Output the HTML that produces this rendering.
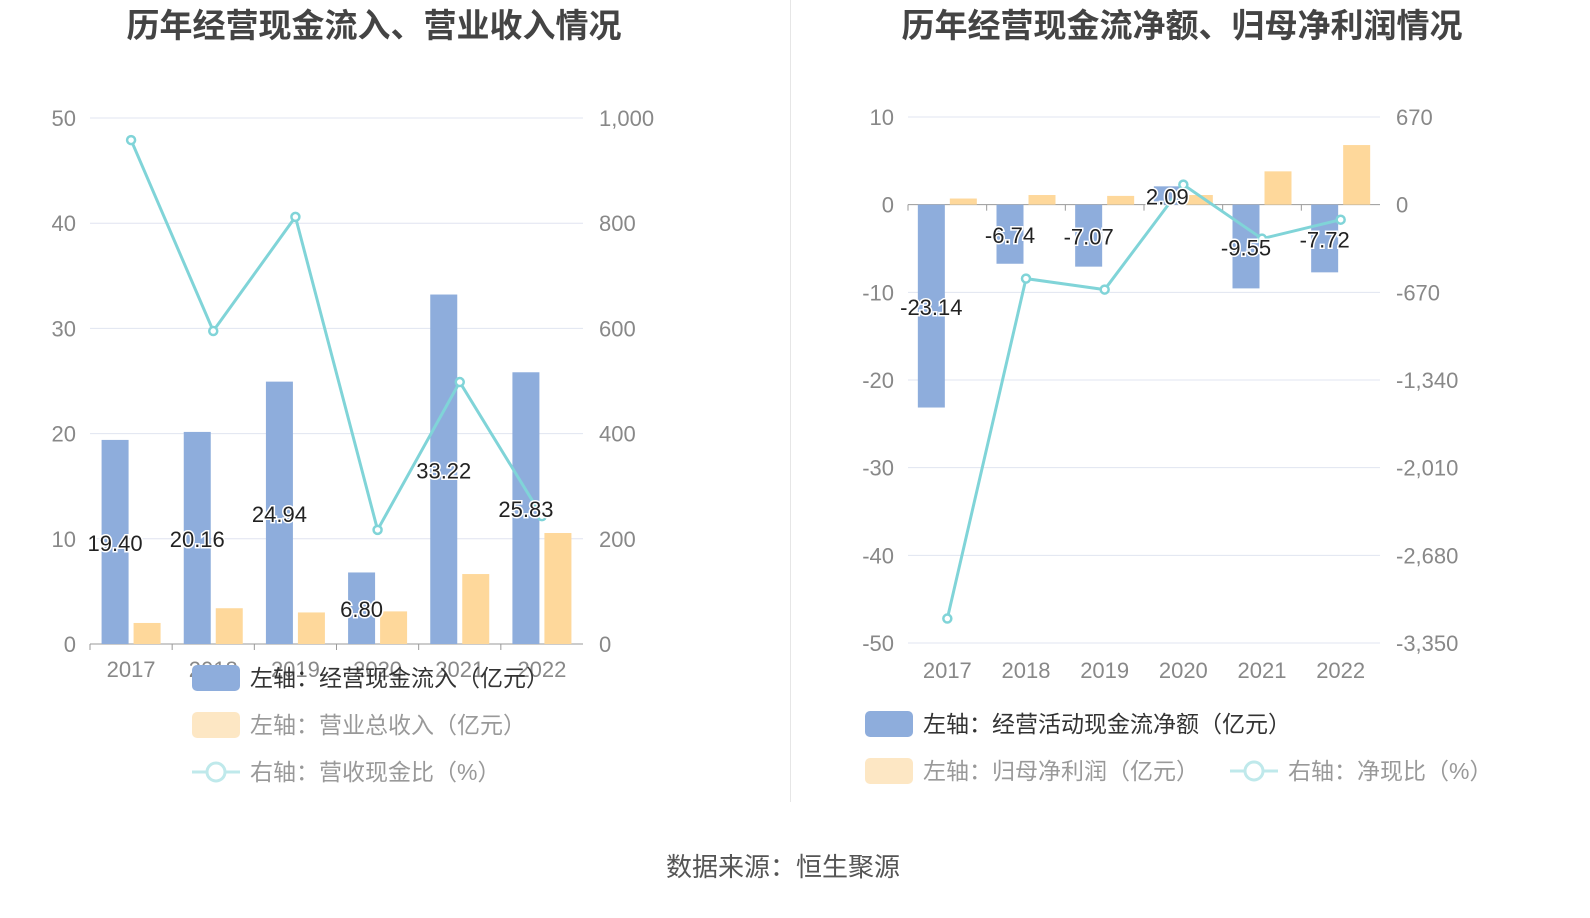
<!DOCTYPE html>
<html><head><meta charset="utf-8">
<style>
html,body{margin:0;padding:0;background:#fff;}
svg{display:block;font-family:"Liberation Sans","Noto Sans CJK SC",sans-serif;}
</style></head>
<body>
<svg id="c" width="1590" height="918" viewBox="0 0 1590 918">
<text x="374" y="37" text-anchor="middle" font-size="33" font-weight="bold" fill="#444">历年经营现金流入、营业收入情况</text>
<text x="1182" y="37" text-anchor="middle" font-size="33" font-weight="bold" fill="#444">历年经营现金流净额、归母净利润情况</text>
<line x1="790.5" y1="0" x2="790.5" y2="802" stroke="#e6e6e6" stroke-width="1"/>
<text x="783" y="876" text-anchor="middle" font-size="26" fill="#555">数据来源：恒生聚源</text>
<g id="L"></g><g id="R"></g>
</svg>
<script>
const years=["2017","2018","2019","2020","2021","2022"];
const leftInflow=[19.40,20.16,24.94,6.80,33.22,25.83];
const leftRevenue=[2.0,3.4,3.0,3.1,6.65,10.55];
const leftRatio=[958,595,812,217,498,243];
const leftTicks=[0,10,20,30,40,50];
const leftRTicks=["0","200","400","600","800","1,000"];
const rightNet=[-23.14,-6.74,-7.07,2.09,-9.55,-7.72];
const rightProfit=[0.7,1.1,1.0,1.1,3.8,6.8];
const rightRatio=[-3163,-565,-649,153,-260,-115];
const rightTicks=[10,0,-10,-20,-30,-40,-50];
const rightRTicks=["670","0","-670","-1,340","-2,010","-2,680","-3,350"];

const NS="http://www.w3.org/2000/svg";
function mk(p,t,a,txt){const e=document.createElementNS(NS,t);for(const k in a)e.setAttribute(k,a[k]);if(txt!==undefined)e.textContent=txt;p.appendChild(e);return e;}
const BLUE="#8eaddc",ORANGE="#fed89b",TEAL="#80d4d8";

function drawChart(g,o){
  const y=v=>o.y0-(v-o.vmin)/(o.vmax-o.vmin)*(o.y0-o.y1);
  const yr=v=>o.y0-(v-o.rmin)/(o.rmax-o.rmin)*(o.y0-o.y1);
  const step=(o.x1-o.x0)/years.length;
  const cx=i=>o.x0+step*(i+0.5);
  o.ticks.forEach((t,i)=>{
    const yy=y(t);
    const l=mk(g,"line",{x1:o.x0,x2:o.x1,y1:yy,y2:yy,stroke:t===0?"#999":"#e0e4f0","stroke-width":1});
    
    
    const tl=mk(g,"text",{x:o.x0-14,y:yy+8,"text-anchor":"end","font-size":22,fill:"#888"},String(t));
    
    
    const tr=mk(g,"text",{x:o.x1+16,y:yy+8,"font-size":22,fill:"#888"},o.rlabels[i]);
    
    
  });
  const zy=y(0);
  years.forEach((yrl,i)=>{
    const xl=mk(g,"text",{x:cx(i),y:o.xlabY,"text-anchor":"middle","font-size":22,fill:"#888"},yrl);
    
    
    const tk=mk(g,"line",{x1:o.x0+step*i,x2:o.x0+step*i,y1:zy,y2:zy+6,stroke:"#999"});
    
    
    const bw=27;
    const v=o.a[i],b=mk(g,"rect",{x:cx(i)-16-bw/2,y:Math.min(y(v),zy),width:bw,height:Math.abs(y(v)-zy),fill:BLUE});
    
    
    const v2=o.b[i],b2=mk(g,"rect",{x:cx(i)+16-bw/2,y:Math.min(y(v2),zy),width:bw,height:Math.abs(y(v2)-zy),fill:ORANGE});
    
    
  });
  let d="";
  o.c.forEach((v,i)=>{d+=(i?"L":"M")+cx(i)+","+yr(v);});
  const ln=mk(g,"path",{d:d,fill:"none",stroke:TEAL,"stroke-width":3});
  
  
  o.c.forEach((v,i)=>{
    const p=mk(g,"circle",{cx:cx(i),cy:yr(v),r:4,fill:"#fff",stroke:TEAL,"stroke-width":2.5});
    
    
  });
  o.a.forEach((v,i)=>{
    const t=mk(g,"text",{x:cx(i)-16,y:(y(v)+zy)/2+9,"text-anchor":"middle","font-size":22,fill:"#222",stroke:"#fff","stroke-width":3,"paint-order":"stroke"},v.toFixed(2));
    
    
  });
}
const L=document.getElementById("L"),R=document.getElementById("R");
drawChart(L,{x0:90,x1:583,y0:644,y1:118,vmin:0,vmax:50,rmin:0,rmax:1000,ticks:leftTicks,rlabels:leftRTicks,a:leftInflow,b:leftRevenue,c:leftRatio,xlabY:677});
drawChart(R,{x0:908,x1:1380,y0:643,y1:117,vmin:-50,vmax:10,rmin:-3350,rmax:670,ticks:rightTicks,rlabels:rightRTicks,a:rightNet,b:rightProfit,c:rightRatio,xlabY:678});

function legend(g,x,yy,type,label,name){
  const e=mk(g,"g",{});
  
  
  if(type==="line"){
    mk(e,"line",{x1:x,x2:x+48,y1:yy,y2:yy,stroke:"#bfe9eb","stroke-width":3});
    mk(e,"circle",{cx:x+24,cy:yy,r:9,fill:"#fff",stroke:"#bfe9eb","stroke-width":3});
  } else mk(e,"rect",{x:x,y:yy-13,width:48,height:26,rx:5,fill:type});
  mk(e,"text",{x:x+58,y:yy+8,"font-size":23,fill:type==="#8eaddc"?"#333":"#999"},label);
}
legend(L,192,678,"#8eaddc","左轴：经营现金流入（亿元）","legend-inflow");
legend(L,192,725,"#fde7c4","左轴：营业总收入（亿元）","legend-revenue");
legend(L,192,772,"line","右轴：营收现金比（%）","legend-revenue-cash-ratio");
legend(R,865,724,"#8eaddc","左轴：经营活动现金流净额（亿元）","legend-net-cash");
legend(R,865,771,"#fde7c4","左轴：归母净利润（亿元）","legend-net-profit");
legend(R,1230,771,"line","右轴：净现比（%）","legend-net-cash-ratio");
</script>
</body></html>
